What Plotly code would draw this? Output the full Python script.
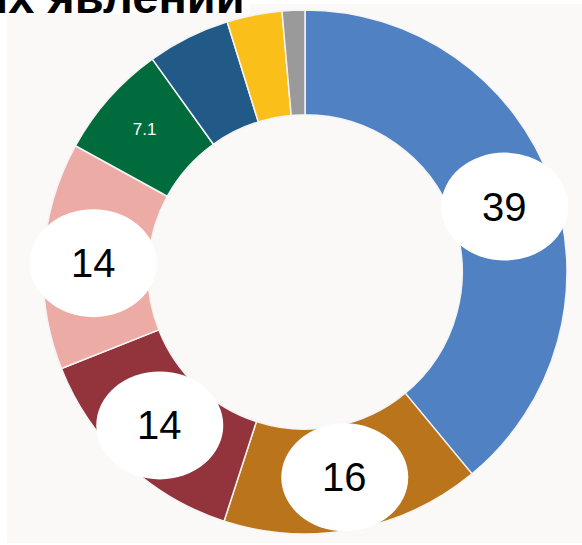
import math
import plotly.graph_objects as go

# ---- data ----
categories = ["Кат. 1", "Кат. 2", "Кат. 3", "Кат. 4", "Кат. 5", "Кат. 6", "Кат. 7", "Кат. 8"]
values = [39, 16, 14, 14, 7.1, 5.1, 3.4, 1.4]
slice_text = ["", "", "", "", "7.1", "", "", ""]
bubble_labels = ["39", "16", "14", "14", None, None, None, None]
colors = ["#4F81C3", "#BA741C", "#93333C", "#EDABA6", "#006C3E", "#215A86", "#FBBF1A", "#9A9A9A"]
title_text = "ых явлений"

W, H = 582, 545
CX, CY, R = 305, 272, 262   # pixel centre / radius of the donut
HOLE = 0.6
BG = "#FBF9F8"

fig = go.Figure()
fig.add_trace(go.Pie(
    labels=categories, values=values, text=slice_text,
    textinfo="text", textposition="inside", insidetextorientation="horizontal",
    insidetextfont=dict(color="white", size=17, family="Arial, Liberation Sans"),
    marker=dict(colors=colors, line=dict(color="#F4F4F4", width=1.5)),
    hole=HOLE, sort=False, direction="clockwise", rotation=0,
    showlegend=False, hoverinfo="label+value",
    domain=dict(x=[(CX - R) / W, (CX + R) / W], y=[(H - CY - R) / H, (H - CY + R) / H]),
))

shapes = [
    dict(type="rect", xref="paper", yref="paper", layer="below",
         x0=7 / W, x1=1.0, y0=1 - 543 / H, y1=1 - 4 / H, fillcolor=BG, line=dict(width=0)),
    dict(type="rect", xref="paper", yref="paper", layer="below",
         x0=0, x1=250 / W, y0=1 - 14 / H, y1=1.0, fillcolor="white", line=dict(width=0)),
]
annotations = []

total = sum(values)
r_lab = 205
ew, eh = 127, 108
cum = 0.0
for v, lab in zip(values, bubble_labels):
    mid = (cum + v / 2) / total * 2 * math.pi
    cum += v
    if lab is None:
        continue
    px = CX + 1.035 * r_lab * math.sin(mid)
    py = CY + 4 - r_lab * math.cos(mid)
    shapes.append(dict(type="circle", xref="paper", yref="paper", layer="above",
                       x0=(px - ew / 2) / W, x1=(px + ew / 2) / W,
                       y0=1 - (py + eh / 2) / H, y1=1 - (py - eh / 2) / H,
                       fillcolor="white", line=dict(width=0)))
    annotations.append(dict(x=px / W, y=1 - py / H, xref="paper", yref="paper",
                            text=lab, showarrow=False, xanchor="center", yanchor="middle",
                            font=dict(size=40, color="black", family="Arial, Liberation Sans")))

annotations.append(dict(x=247 / W, y=1 + 4 / H, xref="paper", yref="paper", text="<b>" + title_text + "</b>",
                        showarrow=False, xanchor="right", yanchor="middle",
                        font=dict(size=47, color="black", family="Arial, Liberation Sans")))

fig.update_layout(
    width=W, height=H, margin=dict(l=0, r=0, t=0, b=0),
    paper_bgcolor="white", plot_bgcolor="white",
    shapes=shapes, annotations=annotations,
)
fig.write_html("out.html", config={"displayModeBar": False},
               post_script="document.body.style.margin='0';document.body.style.overflow='hidden';")
